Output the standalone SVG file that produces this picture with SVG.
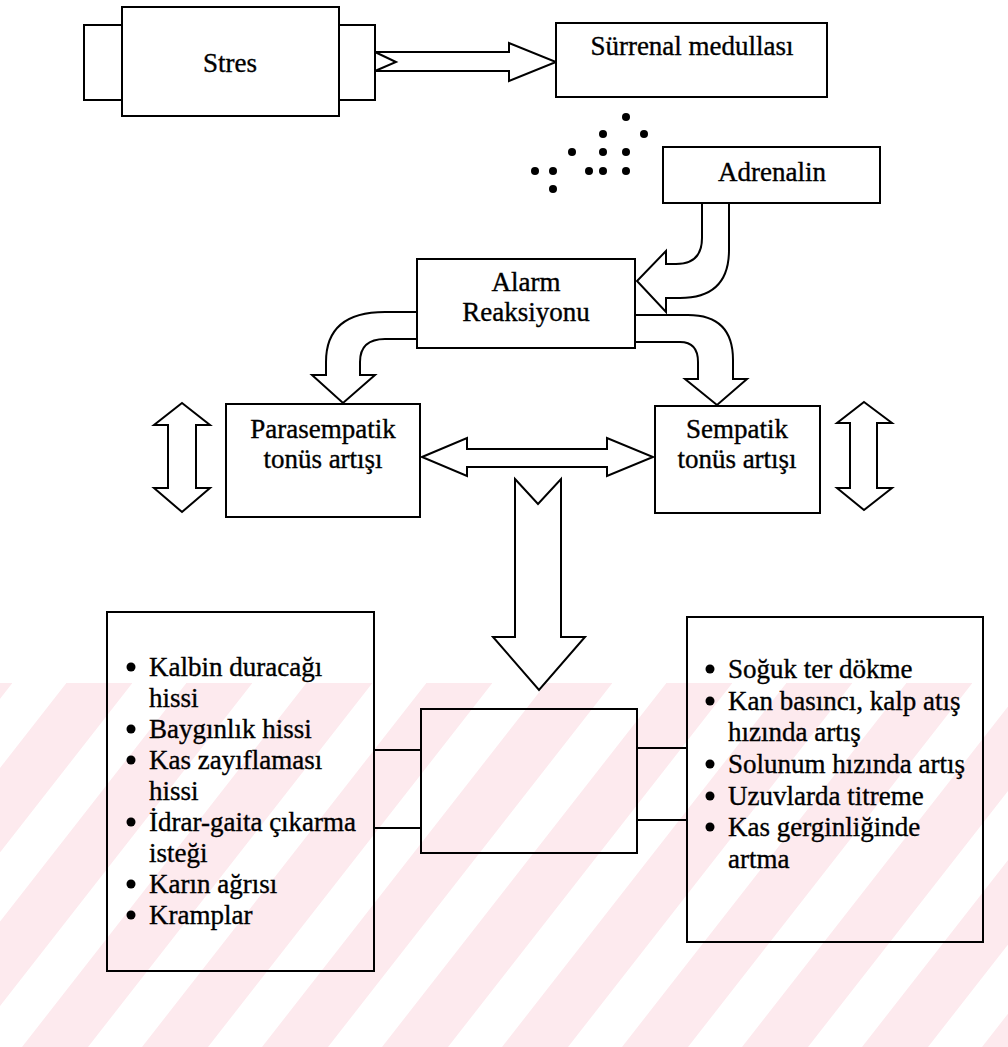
<svg xmlns="http://www.w3.org/2000/svg" width="1008" height="1047" viewBox="0 0 1008 1047">
<style>
.box{fill:#fff;stroke:#000;stroke-width:2}
.open{fill:none;stroke:#000;stroke-width:2}
.arrow{fill:#fff;stroke:#000;stroke-width:2;stroke-linejoin:miter}
.arrowo{fill:none;stroke:#000;stroke-width:2;stroke-linejoin:miter}
.line{fill:none;stroke:#000;stroke-width:2}
.t{font-family:"Liberation Serif","Times New Roman",serif;font-size:27px;fill:#000;stroke:#000;stroke-width:0.35}
.c{text-anchor:middle}
.dot{fill:#000}
</style>
<defs>
<pattern id="wm" patternUnits="userSpaceOnUse" width="120" height="120" patternTransform="skewX(-38)">
<rect x="0" y="0" width="66" height="120" fill="#fdeaee"/>
</pattern>
</defs>
<rect x="0" y="0" width="1008" height="1047" fill="#fff"/>
<g id="watermark">
<rect x="0" y="683" width="1008" height="364" fill="url(#wm)"/>
</g>
<g id="connectors">
<path class="arrow" d="M375,52 H509 V43 L556,62 L509,81 V71 H375"/>
<path class="line" d="M375,52 L396,62 L375,71"/>
<path class="arrow" d="M702,203 V238 Q702,264 676,264 H666 V251 L637,281 L666,312 V298 H680 Q729,298 729,250 V203"/>
<path class="arrow" d="M635,315 H688 Q733,315 733,360 V379 H747 L717,405 L685,379 H698 V362 Q698,342 680,342 H635"/>
<path class="arrow" d="M417,312 H385 Q326,312 326,362 V375 H312 L343,403 L375,375 H360 V362 Q360,339 385,339 H417"/>
<path class="arrow" d="M422,457 L467,438 V449 H607 V438 L653,457 L607,476 V467 H467 V476 Z"/>
<path class="arrowo" d="M515,479 L538,504 L561,479 V637 H585 L539,690 L493,637 H515 Z"/>
<path class="arrow" d="M182,403 L210,425 H196 V488 H210 L182,512 L154,488 H168 V425 H154 Z"/>
<path class="arrow" d="M864,402 L892,423 H877 V488 H892 L864,510 L837,488 H850 V423 H837 Z"/>
<path class="line" d="M374,750 H421 M374,828 H421 M637,748 H687 M637,820 H687"/>
</g>
<g id="node-stres">
<rect class="box" x="84" y="25" width="38" height="75"/>
<rect class="box" x="339" y="25" width="36" height="75"/>
<rect class="box" x="122" y="7" width="217" height="109"/>
<text class="t c" x="230" y="72">Stres</text>
</g>
<g id="node-surrenal">
<rect class="box" x="556" y="23" width="271" height="74"/>
<text class="t c" x="692" y="55">Sürrenal medullası</text>
</g>
<g id="adrenalin-dots">
<circle class="dot" cx="626" cy="117" r="4"/>
<circle class="dot" cx="603" cy="134" r="4"/>
<circle class="dot" cx="644" cy="134" r="4"/>
<circle class="dot" cx="572" cy="152" r="4"/>
<circle class="dot" cx="603" cy="152" r="4"/>
<circle class="dot" cx="626" cy="152" r="4"/>
<circle class="dot" cx="535" cy="171" r="4"/>
<circle class="dot" cx="553" cy="171" r="4"/>
<circle class="dot" cx="589" cy="171" r="4"/>
<circle class="dot" cx="603" cy="171" r="4"/>
<circle class="dot" cx="626" cy="171" r="4"/>
<circle class="dot" cx="553" cy="189" r="4"/>
</g>
<g id="node-adrenalin">
<rect class="box" x="663" y="147" width="217" height="56"/>
<text class="t c" x="772" y="181">Adrenalin</text>
</g>
<g id="node-alarm">
<rect class="box" x="417" y="259" width="218" height="89"/>
<text class="t c" x="526" y="291">Alarm</text>
<text class="t c" x="526" y="321">Reaksiyonu</text>
</g>
<g id="node-parasempatik">
<rect class="box" x="226" y="404" width="194" height="113"/>
<text class="t c" x="323" y="438">Parasempatik</text>
<text class="t c" x="323" y="468">tonüs artışı</text>
</g>
<g id="node-sempatik">
<rect class="box" x="655" y="406" width="165" height="107"/>
<text class="t c" x="737" y="438">Sempatik</text>
<text class="t c" x="737" y="468">tonüs artışı</text>
</g>
<g id="node-center">
<rect class="open" x="421" y="709" width="216" height="144"/>
</g>
<g id="node-left-list">
<rect class="open" x="107" y="612" width="267" height="359"/>
<circle class="dot" cx="131" cy="667" r="4.5"/>
<circle class="dot" cx="131" cy="729" r="4.5"/>
<circle class="dot" cx="131" cy="760" r="4.5"/>
<circle class="dot" cx="131" cy="822" r="4.5"/>
<circle class="dot" cx="131" cy="884" r="4.5"/>
<circle class="dot" cx="131" cy="915" r="4.5"/>
<text class="t" x="149" y="676">Kalbin duracağı</text>
<text class="t" x="149" y="707">hissi</text>
<text class="t" x="149" y="738">Baygınlık hissi</text>
<text class="t" x="149" y="769">Kas zayıflaması</text>
<text class="t" x="149" y="800">hissi</text>
<text class="t" x="149" y="831">İdrar-gaita çıkarma</text>
<text class="t" x="149" y="862">isteği</text>
<text class="t" x="149" y="893">Karın ağrısı</text>
<text class="t" x="149" y="924">Kramplar</text>
</g>
<g id="node-right-list">
<rect class="open" x="687" y="617" width="296" height="325"/>
<circle class="dot" cx="710" cy="669" r="4.5"/>
<circle class="dot" cx="710" cy="701" r="4.5"/>
<circle class="dot" cx="710" cy="764" r="4.5"/>
<circle class="dot" cx="710" cy="796" r="4.5"/>
<circle class="dot" cx="710" cy="827" r="4.5"/>
<text class="t" x="728" y="678">Soğuk ter dökme</text>
<text class="t" x="728" y="710">Kan basıncı, kalp atış</text>
<text class="t" x="728" y="741">hızında artış</text>
<text class="t" x="728" y="773">Solunum hızında artış</text>
<text class="t" x="728" y="805">Uzuvlarda titreme</text>
<text class="t" x="728" y="836">Kas gerginliğinde</text>
<text class="t" x="728" y="868">artma</text>
</g>
</svg>
